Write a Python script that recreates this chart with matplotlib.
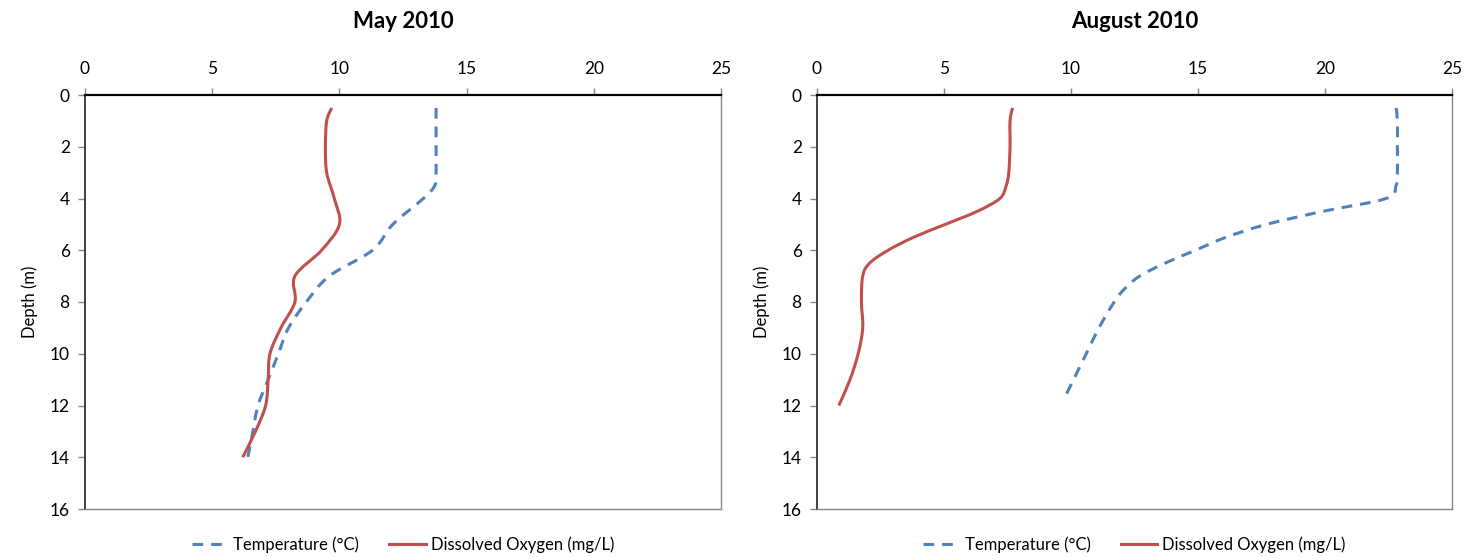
import matplotlib
matplotlib.use('Agg')
import matplotlib.pyplot as plt
from matplotlib.path import Path
from matplotlib.patches import PathPatch
from matplotlib.lines import Line2D
import numpy as np

plt.rcParams['font.family'] = ['Lato', 'DejaVu Sans']

# May 2010 profiles
may_temp_depth = [0.5, 1, 2, 3, 3.5, 4, 5, 6, 7, 8, 9, 10, 11, 12, 13, 14]
may_temp = [13.8, 13.8, 13.8, 13.8, 13.75, 13.3, 12.1, 11.3, 9.6, 8.7, 8.0, 7.6, 7.2, 6.8, 6.6, 6.4]
may_do_depth = [0.5, 1, 2, 3, 4, 5, 6, 7, 8, 9, 10, 11, 12, 13, 14]
may_do = [9.7, 9.5, 9.45, 9.5, 9.8, 10.0, 9.3, 8.25, 8.25, 7.7, 7.27, 7.2, 7.1, 6.7, 6.2]

# August 2010 profiles
aug_temp_depth = [0.5, 1, 2, 3, 3.5, 4, 4.5, 5, 5.5, 6, 6.5, 7, 7.5, 8, 9, 10, 11, 11.8]
aug_temp = [22.8, 22.85, 22.85, 22.85, 22.8, 22.4, 19.9, 17.7, 16.1, 14.9, 13.7, 12.7, 12.1, 11.7, 11.1, 10.6, 10.1, 9.7]
aug_do_depth = [0.5, 1, 2, 3, 3.5, 4, 4.5, 5, 5.5, 6, 6.5, 7, 8, 9, 10, 11, 12]
aug_do = [7.7, 7.6, 7.6, 7.55, 7.45, 7.2, 6.3, 5.05, 3.8, 2.8, 2.07, 1.8, 1.75, 1.8, 1.62, 1.3, 0.86]

titles = ['May 2010', 'August 2010']
x_ticks = [0, 5, 10, 15, 20, 25]
y_ticks = [0, 2, 4, 6, 8, 10, 12, 14, 16]

temp_color = '#4F81BD'
do_color = '#C0504D'


# smooth curve through the points, like Excel's smoothed scatter lines
def smooth_path(x, y, tension=1/6):
    pts = np.column_stack([x, y])
    verts = [pts[0]]
    codes = [Path.MOVETO]
    n = len(pts)
    for i in range(n - 1):
        p0 = pts[max(i - 1, 0)]
        p1 = pts[i]
        p2 = pts[i + 1]
        p3 = pts[min(i + 2, n - 1)]
        c1 = p1 + (p2 - p0) * tension
        c2 = p2 - (p3 - p1) * tension
        verts += [c1, c2, p2]
        codes += [Path.CURVE4] * 3
    return Path(verts, codes)


def draw_panel(ax, title, t_depth, t_vals, d_depth, d_vals):
    ax.add_patch(PathPatch(smooth_path(t_vals, t_depth), fill=False, edgecolor=temp_color,
                           lw=2.2, linestyle=(0, (3.5, 2.6)), capstyle='butt'))
    ax.add_patch(PathPatch(smooth_path(d_vals, d_depth), fill=False, edgecolor=do_color, lw=2.2))
    ax.set_xlim(0, 25)
    ax.set_ylim(16, 0)
    ax.xaxis.tick_top()
    ax.set_xticks(x_ticks)
    ax.set_yticks(y_ticks)
    ax.tick_params(axis='both', direction='out', length=5, width=1, color='#868686',
                   labelsize=12.5, pad=6)
    ax.tick_params(axis='x', pad=8)
    for s in ax.spines.values():
        s.set_color('#868686')
        s.set_linewidth(1)
    ax.spines['top'].set_color('#000000')
    ax.spines['top'].set_linewidth(1.6)
    ax.spines['left'].set_color('#404040')
    ax.spines['left'].set_linewidth(1.4)
    ax.set_ylabel('Depth (m)', fontsize=12, labelpad=8)
    ax.set_title(title, fontsize=16, fontweight='bold', y=(509 - 28) / 414, pad=0,
                 va='baseline')
    handles = [Line2D([], [], color=temp_color, lw=2.2, linestyle=(0, (3.5, 2.6))),
               Line2D([], [], color=do_color, lw=2.2)]
    ax.legend(handles, ['Temperature (°C)', 'Dissolved Oxygen (mg/L)'], loc='upper center',
              bbox_to_anchor=(0.5, -0.03), ncol=2, frameon=False, fontsize=12,
              handlelength=2.2, columnspacing=1.8, handletextpad=0.3)


fig = plt.figure(figsize=(14.76, 5.57), dpi=100)
ax1 = fig.add_axes([85 / 1476, 1 - 509 / 557, 636 / 1476, 414 / 557])
ax2 = fig.add_axes([817 / 1476, 1 - 509 / 557, 635 / 1476, 414 / 557])

draw_panel(ax1, titles[0], may_temp_depth, may_temp, may_do_depth, may_do)
draw_panel(ax2, titles[1], aug_temp_depth, aug_temp, aug_do_depth, aug_do)

fig.savefig('out.png', dpi=100)
